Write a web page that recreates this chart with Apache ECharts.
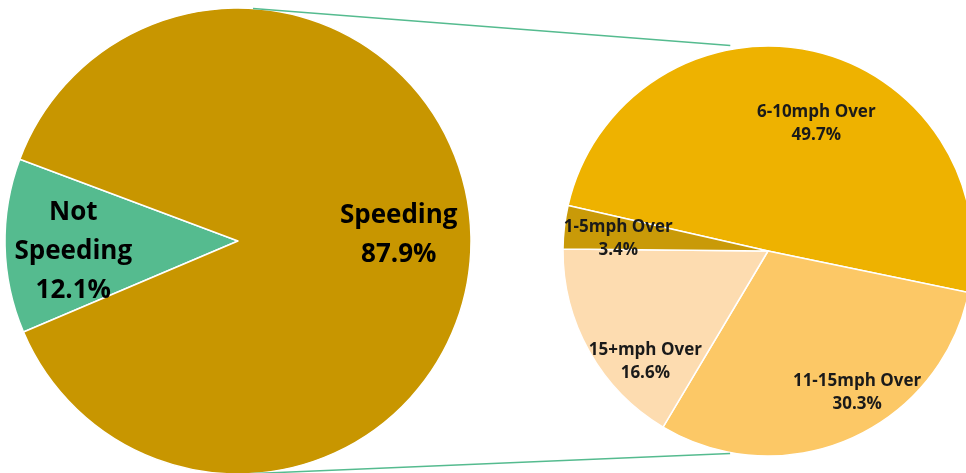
<!DOCTYPE html>
<html>
<head>
<meta charset="utf-8">
<script src="https://cdn.jsdelivr.net/npm/echarts@6/dist/echarts.min.js"></script>
<style>html,body{margin:0;padding:0;background:#fff}#c{width:966px;height:473px}</style>
</head>
<body>
<div id="c"></div>
<script>
// ---- data ----
var mainCategories = ['Not\nSpeeding', 'Speeding'];
var mainValues = [12.1, 87.9];
var subCategories = ['6-10mph Over', '11-15mph Over', '15+mph Over', '1-5mph Over'];
var subValues = [49.7, 30.3, 16.6, 3.4];

// ---- layout / style ----
var mainColors = ['#55BB8F', '#C89600'];
var subColors = ['#EEB200', '#FCC866', '#FDDCB0', '#C99A08'];
var mainCenter = [238, 241], mainR = 233;
var subCenter = [768, 251], subR = 205;
var mainLabelOffsets = [[-1, 7], [-3, -2]];
var subLabelOffsets = [[15, 26], [26, -2], [14, 34], [6, 6]];
var font = '"Open Sans"';

function mk(cats, vals, colors, offs, withColor) {
  return cats.map(function (c, i) {
    var d = { name: c, value: vals[i], label: { offset: offs[i] } };
    d.itemStyle = withColor ? { color: colors[i] } : { color: 'rgba(0,0,0,0)', borderWidth: 0 };
    return d;
  });
}

function pt(c, r, deg) {
  var a = deg * Math.PI / 180;
  return [c[0] + r * Math.cos(a), c[1] - r * Math.sin(a)];
}

var t1 = pt(mainCenter, mainR, 86.3), t2 = pt(subCenter, subR + 4, 100.4);
var b1 = pt(mainCenter, mainR, -88.0), b2 = pt(subCenter, subR + 1, -100.6);

var chart = echarts.init(document.getElementById('c'), null, { renderer: 'canvas' });
var mainStart = 203, subStart = 167.2;
chart.setOption({
  animation: false,
  backgroundColor: '#fff',
  series: [
    {
      type: 'pie', center: mainCenter, radius: [0, mainR], startAngle: mainStart, clockwise: true,
      silent: true, label: { show: false }, labelLine: { show: false },
      itemStyle: { borderColor: '#fff', borderWidth: 1.5 },
      emphasis: { disabled: true },
      data: mk(mainCategories, mainValues, mainColors, mainLabelOffsets, true)
    },
    {
      type: 'pie', center: mainCenter, radius: [mainR * 0.38, mainR], startAngle: mainStart, clockwise: true,
      silent: true, labelLine: { show: false }, emphasis: { disabled: true },
      label: {
        show: true, position: 'inside', formatter: function (p) { return p.name + '\n' + p.value.toFixed(1) + '%'; },
        fontFamily: font, fontWeight: 'bold', fontSize: 26, lineHeight: 39, color: '#000', align: 'center'
      },
      data: mk(mainCategories, mainValues, mainColors, mainLabelOffsets, false)
    },
    {
      type: 'pie', center: subCenter, radius: [0, subR], startAngle: subStart, clockwise: true,
      silent: true, label: { show: false }, labelLine: { show: false },
      itemStyle: { borderColor: '#fff', borderWidth: 1.5 },
      emphasis: { disabled: true },
      data: mk(subCategories, subValues, subColors, subLabelOffsets, true)
    },
    {
      type: 'pie', center: subCenter, radius: [subR * 0.5, subR], startAngle: subStart, clockwise: true,
      silent: true, labelLine: { show: false }, emphasis: { disabled: true },
      label: {
        show: true, position: 'inside', formatter: function (p) { return p.name + '\n' + p.value.toFixed(1) + '%'; },
        fontFamily: font, fontWeight: 'bold', fontSize: 17, lineHeight: 23, color: '#1a1a1a', align: 'center'
      },
      data: mk(subCategories, subValues, subColors, subLabelOffsets, false)
    }
  ],
  graphic: [
    { type: 'line', silent: true, z: 10, shape: { x1: t1[0], y1: t1[1], x2: t2[0], y2: t2[1] }, style: { stroke: '#55BB8F', lineWidth: 1.5 } },
    { type: 'line', silent: true, z: 10, shape: { x1: b1[0], y1: b1[1], x2: b2[0], y2: b2[1] }, style: { stroke: '#55BB8F', lineWidth: 1.5 } }
  ]
});
</script>
</body>
</html>
